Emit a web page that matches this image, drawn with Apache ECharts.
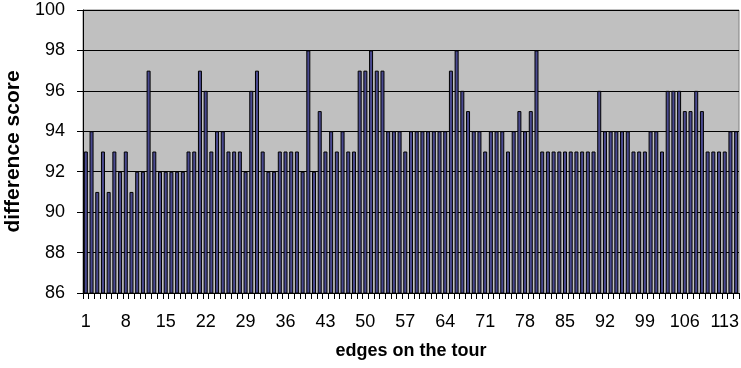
<!DOCTYPE html>
<html>
<head>
<meta charset="utf-8">
<title>difference score</title>
<script src="https://cdn.jsdelivr.net/npm/echarts@6/dist/echarts.min.js"></script>
<style>
    html, body { margin: 0; padding: 0; background: #fff; }
    #chart { width: 741px; height: 368px; }
</style>
</head>
<body>
<div id="chart"></div>
<script>
// edges 1..115 along the tour
const edges = [];
for (let i = 1; i <= 115; i++) edges.push(String(i));

// difference score per edge
const scores = [
    93, 94, 91, 93, 91, 93, 92, 93, 91, 92, 92, 97, 93, 92, 92, 92, 92, 92, 93, 93,
    97, 96, 93, 94, 94, 93, 93, 93, 92, 96, 97, 93, 92, 92, 93, 93, 93, 93, 92, 98,
    92, 95, 93, 94, 93, 94, 93, 93, 97, 97, 98, 97, 97, 94, 94, 94, 93, 94, 94, 94,
    94, 94, 94, 94, 97, 98, 96, 95, 94, 94, 93, 94, 94, 94, 93, 94, 95, 94, 95, 98,
    93, 93, 93, 93, 93, 93, 93, 93, 93, 93, 96, 94, 94, 94, 94, 94, 93, 93, 93, 94,
    94, 93, 96, 96, 96, 95, 95, 96, 95, 93, 93, 93, 93, 94, 94
];

const yMin = 86;
const yMax = 100;
const yStep = 2;

const fontFamily = '"Liberation Sans", Arial, sans-serif';

let myChart = echarts.init(document.getElementById('chart'));

let option = {
    animation: false,
    backgroundColor: '#ffffff',
    grid: {
        left: 83,
        right: 2,
        top: 10,
        bottom: 75,
        outerBoundsMode: 'none',
        containLabel: false,
        show: true,
        backgroundColor: '#c0c0c0',
        borderColor: '#808080',
        borderWidth: 1
    },
    xAxis: {
        type: 'category',
        data: edges,
        boundaryGap: true,
        name: 'edges on the tour',
        nameLocation: 'middle',
        nameGap: 49,
        nameTextStyle: {
            fontFamily: fontFamily,
            fontSize: 18,
            fontWeight: 'bold',
            color: '#000'
        },
        axisLine: { lineStyle: { color: '#000', width: 1 } },
        axisTick: {
            show: true,
            interval: 0,
            length: 6,
            lineStyle: { color: '#000' }
        },
        axisLabel: {
            interval: 6,
            margin: 20,
            fontFamily: fontFamily,
            fontSize: 18,
            color: '#000'
        },
        splitLine: { show: false }
    },
    yAxis: {
        type: 'value',
        min: yMin,
        max: yMax,
        interval: yStep,
        name: 'difference score',
        nameLocation: 'middle',
        nameGap: 58,
        nameTextStyle: {
            fontFamily: fontFamily,
            fontSize: 21,
            fontWeight: 'bold',
            color: '#000'
        },
        axisLine: { show: true, lineStyle: { color: '#000', width: 1 } },
        axisTick: { show: true, length: 6, lineStyle: { color: '#000' } },
        axisLabel: {
            margin: 18,
            fontFamily: fontFamily,
            fontSize: 18,
            color: '#000'
        },
        splitLine: { show: true, lineStyle: { color: '#000', width: 1 } }
    },
    series: [
        {
            type: 'bar',
            data: scores,
            barWidth: 4,
            itemStyle: {
                color: '#4a4a90',
                borderColor: '#000',
                borderWidth: 1
            }
        }
    ]
};

option && myChart.setOption(option);
</script>
</body>
</html>
